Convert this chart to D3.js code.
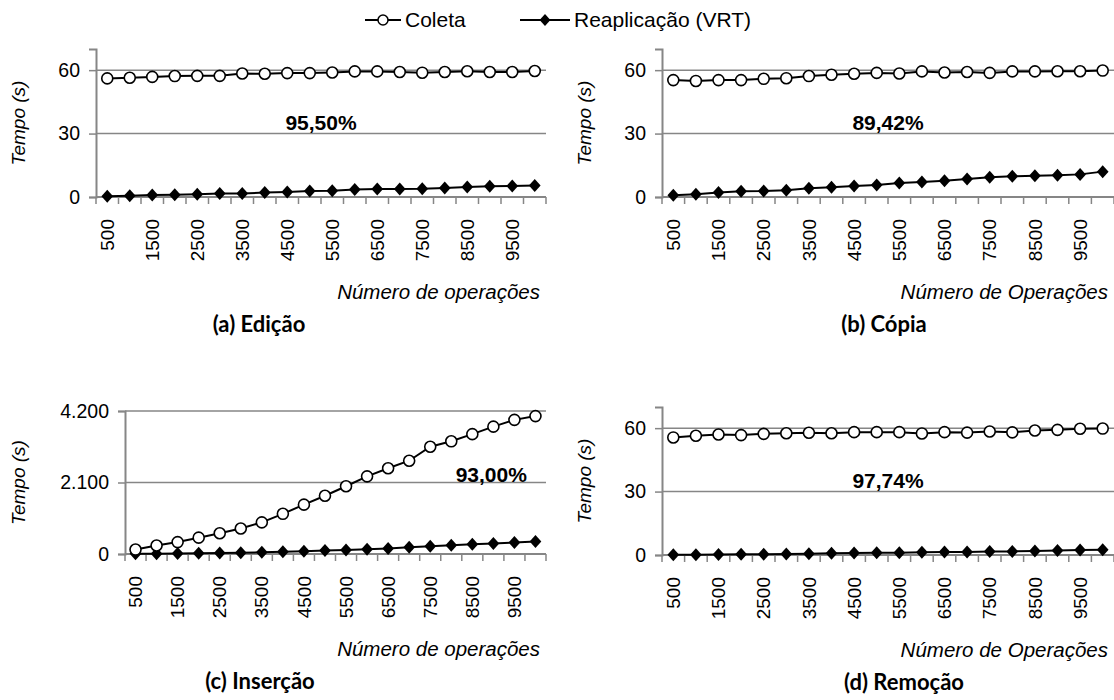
<!DOCTYPE html>
<meta charset="utf-8">
<head>
  <title>Coleta x Reaplicação (VRT)</title>
</head>

<style>
body {
  margin: 0;
  background: #fff;
}
svg text {
  font-family: "Liberation Sans", Arial, sans-serif;
  fill: #000;
}
</style>

<body>
  <svg width="1114" height="700"></svg>

  <script src="https://cdnjs.cloudflare.com/ajax/libs/d3/7.8.5/d3.min.js"></script>

  <script>
// numero de operacoes (eixo x)
var operacoes = [500, 1000, 1500, 2000, 2500, 3000, 3500, 4000, 4500, 5000,
                 5500, 6000, 6500, 7000, 7500, 8000, 8500, 9000, 9500, 10000];
var rotulosX = [500, 1500, 2500, 3500, 4500, 5500, 6500, 7500, 8500, 9500];

// tempos em segundos
var coletaEdicao = [56.1, 56.4, 56.8, 57.2, 57.3, 57.3, 58.4, 58.3, 58.6, 58.6,
                    58.9, 59.4, 59.4, 59.1, 58.8, 59.1, 59.5, 59.1, 59.1, 59.6];
var vrtEdicao = [0.3, 0.6, 0.9, 1.1, 1.3, 1.6, 1.7, 2.1, 2.4, 2.8,
                 3.0, 3.5, 3.8, 3.8, 3.9, 4.3, 4.7, 5.1, 5.2, 5.4];

var coletaCopia = [55.3, 54.9, 55.3, 55.3, 55.9, 56.2, 57.2, 57.8, 58.3, 58.7,
                   58.4, 59.4, 58.9, 59.1, 58.7, 59.4, 59.4, 59.5, 59.5, 59.8];
var vrtCopia = [0.8, 1.3, 2.1, 2.7, 2.8, 3.2, 4.1, 4.6, 5.2, 5.7,
                6.6, 7.1, 7.7, 8.5, 9.3, 9.8, 10.1, 10.3, 10.7, 12.0];

var coletaInsercao = [130, 250, 350, 480, 610, 750, 930, 1180, 1450, 1710,
                      1990, 2280, 2520, 2740, 3150, 3310, 3520, 3740, 3940, 4050];
var vrtInsercao = [5, 10, 15, 20, 30, 40, 50, 65, 80, 100,
                   120, 140, 165, 195, 230, 260, 285, 310, 335, 370];

var coletaRemocao = [55.6, 56.4, 57.0, 56.7, 57.3, 57.6, 57.8, 57.6, 58.1, 58.1,
                     58.1, 57.5, 58.1, 57.9, 58.4, 58.0, 58.9, 59.2, 59.7, 59.8];
var vrtRemocao = [0.1, 0.1, 0.2, 0.3, 0.3, 0.5, 0.6, 0.8, 0.9, 1.1,
                  1.1, 1.3, 1.4, 1.4, 1.6, 1.7, 1.9, 2.1, 2.4, 2.5];

var percentuais = ["95,50%", "89,42%", "93,00%", "97,74%"];
var titulos = ["(a) Edição", "(b) Cópia", "(c) Inserção", "(d) Remoção"];
var titulosX = ["Número de operações", "Número de Operações", "Número de operações", "Número de Operações"];
var series = ["Coleta", "Reaplicação (VRT)"];

var pt = d3.formatLocale({decimal: ",", thousands: ".", grouping: [3], currency: ["R$", ""]});

var svg = d3.select('svg');

var cinza = '#868686';
var arial = '"Liberation Sans", Arial, sans-serif';

// losango um pouco mais largo que o do d3
var losango = {
  draw: function(ctx, size) {
    var h = size;
    ctx.moveTo(0, -h);
    ctx.lineTo(h * 0.9, 0);
    ctx.lineTo(0, h);
    ctx.lineTo(-h * 0.9, 0);
    ctx.closePath();
  }
};

var paineis = [
  {coleta: coletaEdicao, vrt: vrtEdicao, left: 96, right: 546, zero: 197, topo: 49,
   max: 70, ticks: [0, 30, 60], yLeg: 18, pctX: 0.5, pctV: 35, tituloX: 259},
  {coleta: coletaCopia, vrt: vrtCopia, left: 662, right: 1114, zero: 197, topo: 49,
   max: 70, ticks: [0, 30, 60], yLeg: 584, pctX: 0.5, pctV: 35, tituloX: 884},
  {coleta: coletaInsercao, vrt: vrtInsercao, left: 125, right: 546, zero: 554, topo: 411,
   max: 4200, ticks: [0, 2100, 4200], yLeg: 18, pctX: 0.87, pctV: 2330, tituloX: 260},
  {coleta: coletaRemocao, vrt: vrtRemocao, left: 662, right: 1114, zero: 555, topo: 407,
   max: 70, ticks: [0, 30, 60], yLeg: 584, pctX: 0.5, pctV: 35, tituloX: 904}
];

paineis.forEach(function(p, i) {
  var x = d3.scaleBand().domain(operacoes).range([p.left, p.right]);
  var y = d3.scaleLinear().domain([0, p.max]).range([p.zero, p.topo]);
  var g = svg.append('g');

  // grade horizontal
  g.selectAll('.grid')
    .data(p.ticks.filter(function(t) { return t > 0; }))
    .enter().append('line')
    .attr('x1', p.left).attr('x2', p.right)
    .attr('y1', function(d) { return y(d); })
    .attr('y2', function(d) { return y(d); })
    .attr('stroke', cinza).attr('stroke-width', 1.5);

  // eixo y
  var ay = g.append('g')
    .attr('transform', 'translate(' + p.left + ',0)')
    .call(d3.axisLeft(y).tickValues(p.ticks).tickSize(7).tickPadding(9)
      .tickFormat(pt.format(',')));
  ay.select('.domain').attr('stroke', cinza).attr('stroke-width', 2);
  ay.selectAll('.tick line').attr('stroke', cinza).attr('stroke-width', 1.5);
  ay.selectAll('.tick text').attr('font-size', 19.5).attr('fill', '#000')
    .style('font-family', arial);

  // eixo x: linha, marcas entre categorias
  g.append('line')
    .attr('x1', p.left).attr('x2', p.right)
    .attr('y1', p.zero).attr('y2', p.zero)
    .attr('stroke', cinza).attr('stroke-width', 2);
  var limites = operacoes.map(function(d) { return x(d); }).concat([p.right]);
  g.selectAll('.xt')
    .data(limites)
    .enter().append('line')
    .attr('x1', function(d) { return d; }).attr('x2', function(d) { return d; })
    .attr('y1', p.zero).attr('y2', p.zero + 7)
    .attr('stroke', cinza).attr('stroke-width', 1.5);

  // rotulos x verticais
  g.selectAll('.xl')
    .data(rotulosX)
    .enter().append('text')
    .attr('transform', function(d) {
      return 'translate(' + (x(d) + x.bandwidth() / 2) + ',' + (p.zero + 22) + ') rotate(-90)';
    })
    .attr('text-anchor', 'end')
    .attr('dy', '0.35em')
    .attr('font-size', 19)
    .style('font-family', arial)
    .text(function(d) { return d; });

  // linhas
  var cx = function(d, j) { return x(operacoes[j]) + x.bandwidth() / 2; };
  var linha = d3.line().x(cx).y(function(d) { return y(d); });

  [p.coleta, p.vrt].forEach(function(s) {
    g.append('path')
      .attr('d', linha(s))
      .attr('fill', 'none')
      .attr('stroke', '#000')
      .attr('stroke-width', 2);
  });

  g.selectAll('.vrt')
    .data(p.vrt)
    .enter().append('path')
    .attr('transform', function(d, j) { return 'translate(' + cx(d, j) + ',' + y(d) + ')'; })
    .attr('d', d3.symbol().type(losango).size(6.5)())
    .attr('fill', '#000');

  g.selectAll('.col')
    .data(p.coleta)
    .enter().append('circle')
    .attr('cx', cx)
    .attr('cy', function(d) { return y(d); })
    .attr('r', 5.5)
    .attr('fill', '#fff')
    .attr('stroke', '#000')
    .attr('stroke-width', 1.6);

  // percentual
  g.append('text')
    .attr('x', p.left + (p.right - p.left) * p.pctX)
    .attr('y', y(p.pctV))
    .attr('dy', '0.35em')
    .attr('text-anchor', 'middle')
    .attr('font-size', 21)
    .attr('font-weight', 'bold')
    .style('font-family', arial)
    .text(percentuais[i]);

  // titulo eixo y
  g.append('text')
    .attr('transform', 'translate(' + p.yLeg + ',' + ((p.zero + p.topo) / 2) + ') rotate(-90)')
    .attr('text-anchor', 'middle')
    .attr('dy', '0.35em')
    .attr('font-size', 19)
    .attr('font-style', 'italic')
    .style('font-family', arial)
    .text('Tempo (s)');

  // titulo eixo x
  g.append('text')
    .attr('x', p.right - 6)
    .attr('y', p.zero + 102)
    .attr('text-anchor', 'end')
    .attr('font-size', 20.5)
    .attr('font-style', 'italic')
    .style('font-family', arial)
    .text(titulosX[i]);

  // subtitulo do painel
  g.append('text')
    .attr('x', p.tituloX)
    .attr('y', p.zero + 135)
    .attr('text-anchor', 'middle')
    .attr('font-size', 22)
    .attr('font-weight', 'bold')
    .style('font-family', 'Lato, "Open Sans", sans-serif')
    .text(titulos[i]);
});

// legenda
var leg = svg.append('g');
var itens = [{x: 365, w: 36, nome: series[0]}, {x: 520, w: 50, nome: series[1]}];
itens.forEach(function(it, k) {
  leg.append('line')
    .attr('x1', it.x).attr('x2', it.x + it.w)
    .attr('y1', 20).attr('y2', 20)
    .attr('stroke', '#000').attr('stroke-width', 2);
  if (k === 0) {
    leg.append('circle')
      .attr('cx', it.x + it.w / 2).attr('cy', 20).attr('r', 5)
      .attr('fill', '#fff').attr('stroke', '#000').attr('stroke-width', 1.5);
  } else {
    leg.append('path')
      .attr('transform', 'translate(' + (it.x + it.w / 2) + ',20)')
      .attr('d', d3.symbol().type(losango).size(6)())
      .attr('fill', '#000');
  }
  leg.append('text')
    .attr('x', it.x + it.w + 4).attr('y', 20)
    .attr('dy', '0.35em')
    .attr('font-size', 21)
    .style('font-family', arial)
    .text(it.nome);
});
  </script>
</body>
</html>
